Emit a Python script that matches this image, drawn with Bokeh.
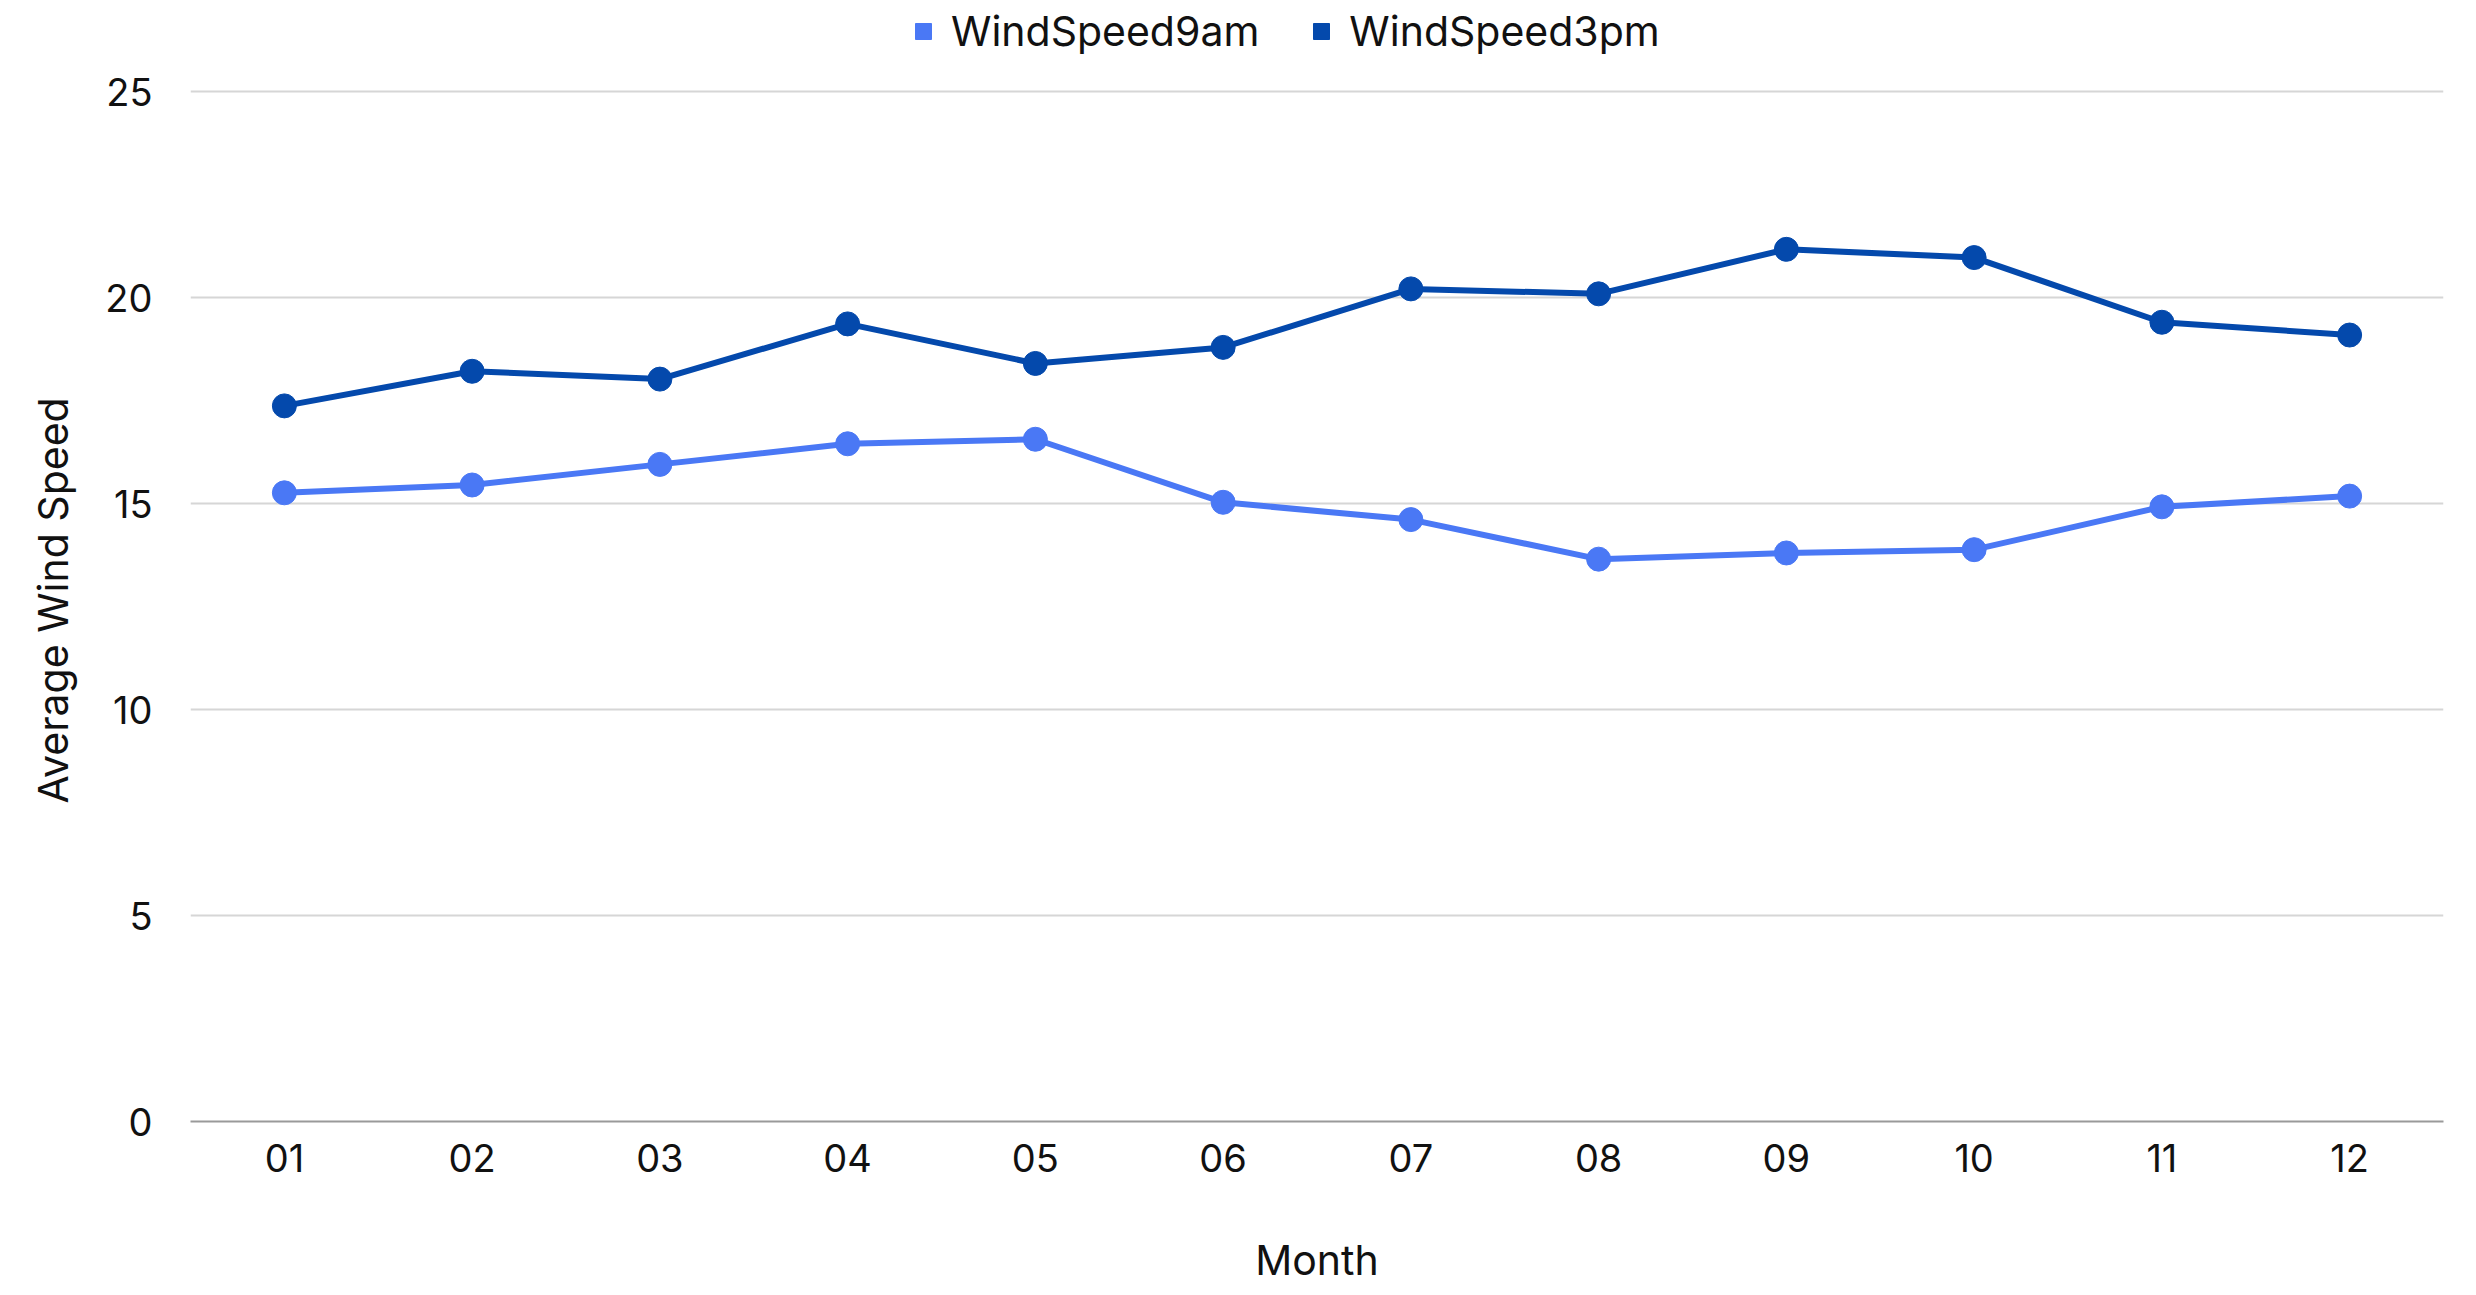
from bokeh.plotting import figure
from bokeh.models import ColumnDataSource, Legend, LegendItem, FactorRange, Range1d, FixedTicker, Title
from bokeh.embed import file_html
from bokeh.resources import INLINE

months = ["01", "02", "03", "04", "05", "06", "07", "08", "09", "10", "11", "12"]
wind_9am = [15.26, 15.45, 15.95, 16.45, 16.56, 15.03, 14.61, 13.65, 13.80, 13.88, 14.92, 15.18]
wind_3pm = [17.37, 18.21, 18.02, 19.36, 18.40, 18.79, 20.21, 20.09, 21.17, 20.97, 19.40, 19.09]
y_ticks = [0, 5, 10, 15, 20, 25]

c9 = "#4A78F5"
c3 = "#0449AC"
FONT = "Inter"

src = ColumnDataSource(dict(m=months, a=wind_9am, b=wind_3pm))

# frame spans the top band too (room for the legend); 25 lands where the reference's top gridline is
p = figure(width=2460, height=1293, x_range=FactorRange(*months), y_range=Range1d(0, 27.21),
           output_backend="svg", toolbar_location=None,
           min_border_left=190, min_border_right=17, min_border_top=0, min_border_bottom=172)
p.outline_line_color = None
p.background_fill_color = "white"

p.line("m", "a", source=src, color=c9, line_width=6)
p.scatter("m", "a", source=src, color=c9, size=24)
p.line("m", "b", source=src, color=c3, line_width=6)
p.scatter("m", "b", source=src, color=c3, size=24)

# legend proxies (squares), not drawn in the frame
e9 = p.scatter(x=[months[0]], y=[float("nan")], marker="square", color=c9)
e3 = p.scatter(x=[months[0]], y=[float("nan")], marker="square", color=c3)
legend = Legend(items=[LegendItem(label="WindSpeed9am", renderers=[e9]),
                       LegendItem(label="WindSpeed3pm", renderers=[e3])],
                orientation="horizontal", location=(713, 1065),
                label_text_font=FONT, label_text_font_size="41px", label_text_color="#111111",
                glyph_width=40, glyph_height=40, label_standoff=8, spacing=42,
                padding=0, margin=0, border_line_color=None, background_fill_alpha=0)
p.add_layout(legend, "center")

# y axis title, centred on the 0-25 span (not on the whole frame)
ytitle = Title(text="Average Wind Speed", align="left", offset=318, standoff=49,
               text_font=FONT, text_font_size="41px", text_font_style="normal", text_color="#111111")
p.add_layout(ytitle, "left")

p.yaxis.ticker = FixedTicker(ticks=y_ticks)
p.yaxis.axis_line_color = None
p.yaxis.major_tick_line_color = None
p.yaxis.minor_tick_line_color = None
p.yaxis.major_label_text_font = FONT
p.yaxis.major_label_text_font_size = "38px"
p.yaxis.major_label_text_color = "#111111"
p.yaxis.major_label_standoff = 32

p.xaxis.axis_line_color = "#9a9a9a"
p.xaxis.axis_line_width = 2
p.xaxis.major_tick_line_color = None
p.xaxis.minor_tick_line_color = None
p.xaxis.major_label_text_font = FONT
p.xaxis.major_label_text_font_size = "38px"
p.xaxis.major_label_text_color = "#111111"
p.xaxis.major_label_standoff = 16
p.xaxis.axis_label = "Month"
p.xaxis.axis_label_text_font = FONT
p.xaxis.axis_label_text_font_size = "41px"
p.xaxis.axis_label_text_font_style = "normal"
p.xaxis.axis_label_text_color = "#111111"
p.xaxis.axis_label_standoff = 60

p.xgrid.grid_line_color = None
p.ygrid.grid_line_color = "#d6d6d6"
p.ygrid.grid_line_width = 2

open("out.html", "w").write(file_html(p, INLINE))
